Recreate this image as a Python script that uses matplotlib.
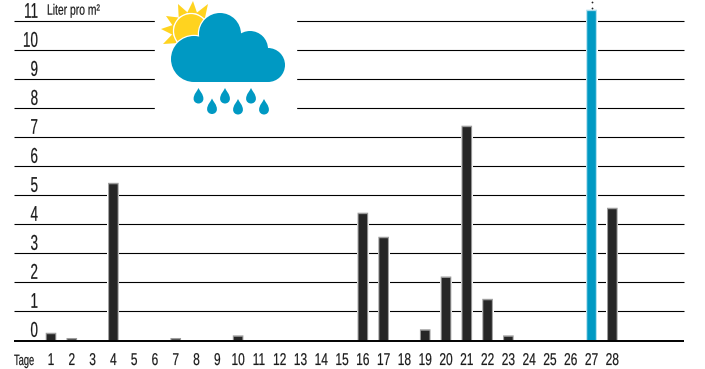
import numpy as np
from matplotlib import pyplot as plt
from matplotlib.patches import Circle, Polygon, PathPatch, Rectangle
from matplotlib.patheffects import AbstractPathEffect
from matplotlib.path import Path
from matplotlib.transforms import Affine2D

days = list(range(1, 29))
rain = [0.26, 0.08, 0, 5.43, 0, 0, 0.08, 0, 0, 0.17, 0, 0, 0, 0, 0, 4.4, 3.57, 0,
        0.38, 2.2, 7.4, 1.43, 0.17, 0, 0, 0, 11.4, 4.57]
y_ticks = list(range(0, 12))
peak_day = 27

DARK = '#262626'
BLUE = '#0099c3'
SUN = '#ffd31f'
TEXT = '#1a1a1a'

plt.rcParams['font.family'] = ['Liberation Sans', 'DejaVu Sans']


# no condensed face is installed, so narrow the glyphs around the text anchor
class Squeeze(AbstractPathEffect):
  def __init__(self, sx, anchor):
    super().__init__()
    self.sx = sx
    self.anchor = anchor

  def draw_path(self, renderer, gc, tpath, affine, rgbFace=None):
    narrow = Affine2D().translate(-self.anchor, 0).scale(self.sx, 1).translate(self.anchor, 0)
    # thin outline gives the strokes a bit more weight
    gc.set_linewidth(0.12)
    gc.set_foreground(rgbFace)
    renderer.draw_path(gc, tpath, affine + narrow, rgbFace)


W, H = 705, 369
fig = plt.figure(figsize=(W / 100, H / 100), dpi=100)
ax = fig.add_axes([0, 0, 1, 1])
ax.axis('off')

# one day is 20.79 px wide, one liter 29 px high
day_px = 20.79
unit_px = 29.0
zero_py = 340.3
first_px = 51.0
ax.set_xlim(1 - first_px / day_px, 1 + (W - first_px) / day_px)
ax.set_ylim((zero_py - H) / unit_px, zero_py / unit_px)


def px_x(px):
  return 1 + (px - first_px) / day_px


def px_y(py):
  return (zero_py - py) / unit_px


def label(x, y, s, sx, **kw):
  t = ax.text(x, y, s, color=TEXT, **kw)
  t.set_path_effects([Squeeze(sx, ax.transData.transform((x, y))[0])])


def soft_bar(d, v, width, color, zorder):
  for rect in ax.bar(d, v, width=width, color=color, zorder=zorder):
    rect.set_snap(False)


# horizontal rules
for v in y_ticks[1:]:
  ax.hlines(v, px_x(14), px_x(684), color='black', lw=0.8, zorder=1)
ax.hlines(px_y(340.8), px_x(14), px_x(684), color='black', lw=1.4, zorder=5)

# bars, with a white halo that cuts the rules
for d, v in zip(days, rain):
  if v == 0:
    continue
  ax.bar(d, v, width=0.58, color='white', zorder=2)
  edge = '#a9dcec' if d == peak_day else '#9c9c9c'
  soft_bar(d, v, 0.51, edge, 3)
  soft_bar(d, v - 0.05, 0.41, BLUE if d == peak_day else DARK, 4)

# two dots above the tallest bar
ax.plot([peak_day, peak_day], [px_y(2), px_y(8)],
        ls='none', marker='o', ms=1.3, mew=0, color='#222222', zorder=4)

# value labels sit just above their rule
for v in y_ticks:
  label(px_x(38), v + 0.12, str(v), 0.63, ha='right', va='baseline', fontsize=15.4)
for d in days:
  label(d, px_y(365), str(d), 0.7, ha='center', va='baseline', fontsize=12.3)
label(px_x(14), px_y(365), 'Tage', 0.62, ha='left', va='baseline', fontsize=10.8)
label(px_x(47), px_y(14.7), 'Liter pro m²', 0.69, ha='left', va='baseline', fontsize=10.8)

# weather icon, drawn in pixel coordinates
icon = fig.add_axes([0, 0, 1, 1])
icon.set_xlim(0, W)
icon.set_ylim(H, 0)
icon.axis('off')
icon.patch.set_alpha(0)
icon.add_patch(Rectangle((155, 0), 141, 118, color='white', zorder=0))

sun_c = np.array([191.0, 31.0])
tips = [(178, 4), (193, 1), (208, 4), (166, 16), (161, 29), (163, 44)]
for tip in tips:
  t = np.array(tip, dtype=float) - sun_c
  ang = np.arctan2(t[1], t[0])
  pts = [tip]
  for da in (-0.28, 0.28):
    pts.append(sun_c + 18.5 * np.array([np.cos(ang + da), np.sin(ang + da)]))
  icon.add_patch(Polygon(pts, closed=True, color=SUN, lw=0, zorder=1))
icon.add_patch(Circle(sun_c, 17.5, fc=SUN, ec='white', lw=0.9, zorder=2))

# white outline behind the cloud, then the cloud itself
lobes = [(220, 34, 21), (250, 49, 18), (268, 65, 17), (194, 59, 23)]
for cx, cy, r in lobes:
  icon.add_patch(Circle((cx, cy), r + 1.2, color='white', lw=0, zorder=3))
for cx, cy, r in lobes:
  icon.add_patch(Circle((cx, cy), r, color=BLUE, lw=0, zorder=4))
icon.add_patch(Rectangle((200, 45), 55, 37, color=BLUE, lw=0, zorder=4))
icon.add_patch(Rectangle((194, 60), 74, 22, color=BLUE, lw=0, zorder=4))


def drop(x, top):
  verts = [(x, top), (x + 1.2, top + 3), (x + 4.9, top + 6), (x + 4.9, top + 10.8),
           (x + 4.9, top + 13.6), (x + 2.6, top + 15.5), (x, top + 15.5),
           (x - 2.6, top + 15.5), (x - 4.9, top + 13.6), (x - 4.9, top + 10.8),
           (x - 4.9, top + 6), (x - 1.2, top + 3), (x, top)]
  codes = [Path.MOVETO] + [Path.CURVE4] * 12
  icon.add_patch(PathPatch(Path(verts, codes), color=BLUE, lw=0, zorder=4))


for x, top in [(198.5, 88), (212, 98.5), (225, 88), (238, 99), (251, 88), (264, 99)]:
  drop(x, top)

fig.savefig('out.png', dpi=100)
